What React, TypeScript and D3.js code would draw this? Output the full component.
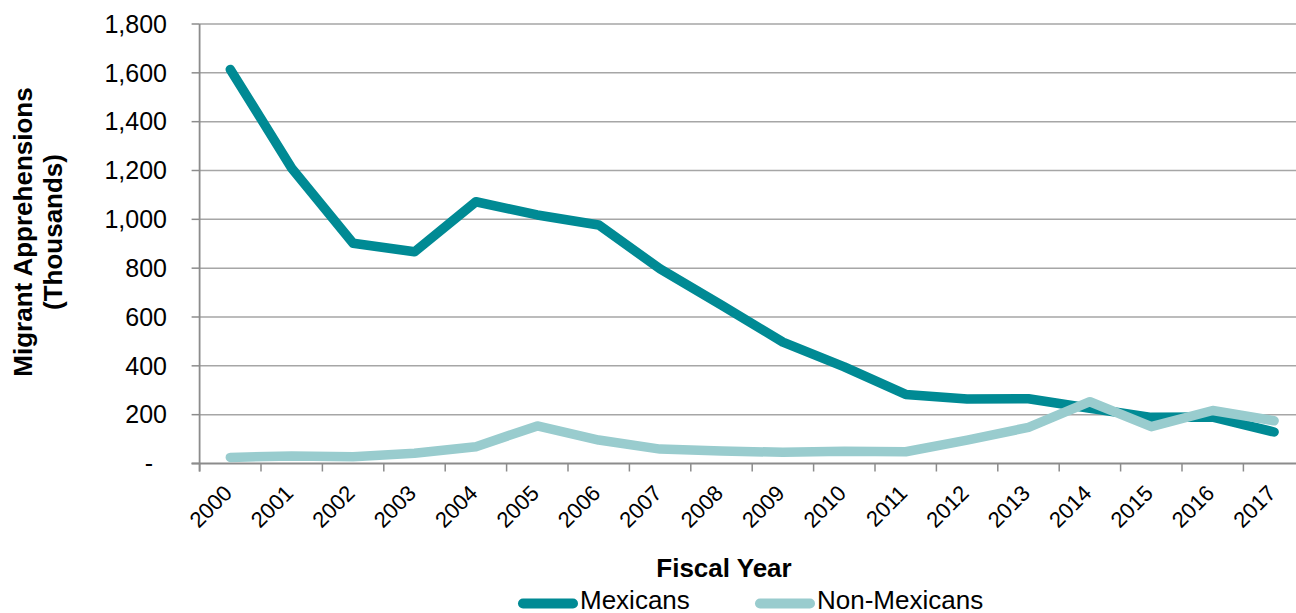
import React from "react";
import * as d3 from "d3";

const years = ["2000","2001","2002","2003","2004","2005","2006","2007","2008","2009","2010","2011","2012","2013","2014","2015","2016","2017"];
const mexicans = [1614,1209,902,867,1072,1018,977,797,649,497,396,283,264,265,226,189,190,129];
const nonMexicans = [25,31,28,42,69,154,96,59,51,46,50,48,96,148,253,151,217,175];
const yTicks = [0,200,400,600,800,1000,1200,1400,1600,1800];
const seriesNames = ["Mexicans","Non-Mexicans"];
const seriesColors = ["#008A94","#99CCCE"];

const W = 1296, H = 613;
const FONT = "'Liberation Sans', Arial, sans-serif";

export default function App() {
  const x = d3.scaleBand<string>().domain(years).range([199.6, 1304.8]);
  const y = d3.scaleLinear().domain([0, 1800]).range([463.5, 24]);
  const cx = (yr: string) => (x(yr) as number) + x.bandwidth() / 2;
  const line = d3.line<number>().x((_, i) => cx(years[i])).y(d => y(d));
  const fmt = (v: number) => (v === 0 ? "-" : d3.format(",")(v));
  const x0 = 199.6;
  const yBase = y(0);

  return (
    <svg width={W} height={H} style={{ position: "absolute", left: 0, top: 0, background: "#fff" }} fontFamily={FONT}>
      {/* gridlines */}
      {yTicks.filter(t => t > 0).map(t => (
        <line key={"g" + t} x1={x0} x2={W} y1={y(t)} y2={y(t)} stroke="#A6A6A6" strokeWidth={1.5} />
      ))}
      {/* y ticks */}
      {yTicks.map(t => (
        <g key={"yt" + t}>
          <line x1={x0 - 8} x2={x0} y1={y(t)} y2={y(t)} stroke="#8C8C8C" strokeWidth={1.5} />
          <text x={t === 0 ? 153 : 167} y={y(t)} dy="0.35em" textAnchor="end" fontSize={25} fill="#000">{fmt(t)}</text>
        </g>
      ))}
      {/* y axis line */}
      <line x1={x0} x2={x0} y1={y(1800)} y2={yBase + 8} stroke="#8C8C8C" strokeWidth={1.8} />
      {/* x axis */}
      <line x1={x0 - 8} x2={W} y1={yBase} y2={yBase} stroke="#8C8C8C" strokeWidth={1.8} />
      {years.map(yr => (
        <line key={"xt" + yr} x1={x(yr) as number} x2={x(yr) as number} y1={yBase} y2={yBase + 8} stroke="#8C8C8C" strokeWidth={1.5} />
      ))}
      {years.map(yr => (
        <text key={"xl" + yr} transform={`translate(${cx(yr) + 3},${494.5}) rotate(-45)`} textAnchor="end" fontSize={22} fill="#000">{yr}</text>
      ))}
      {/* lines */}
      <path d={line(mexicans) || ""} fill="none" stroke={seriesColors[0]} strokeWidth={9.5} strokeLinejoin="round" strokeLinecap="round" />
      <path d={line(nonMexicans) || ""} fill="none" stroke={seriesColors[1]} strokeWidth={9.5} strokeLinejoin="round" strokeLinecap="round" />
      {/* axis titles */}
      <text x={724} y={576.5} textAnchor="middle" fontSize={26} fontWeight="bold" fill="#000">Fiscal Year</text>
      <g transform="translate(0,232) rotate(-90)">
        <text x={0} y={31.5} textAnchor="middle" fontSize={26} fontWeight="bold" fill="#000">Migrant Apprehensions</text>
        <text x={0} y={62} textAnchor="middle" fontSize={26} fontWeight="bold" fill="#000">(Thousands)</text>
      </g>
      {/* legend */}
      {[518, 755].map((lx, i) => (
        <g key={"lg" + i}>
          <line x1={lx + 5} x2={lx + 55} y1={603.5} y2={603.5} stroke={seriesColors[i]} strokeWidth={10} strokeLinecap="round" />
          <text x={lx + 62} y={609} fontSize={26} fill="#000">{seriesNames[i]}</text>
        </g>
      ))}
    </svg>
  );
}
